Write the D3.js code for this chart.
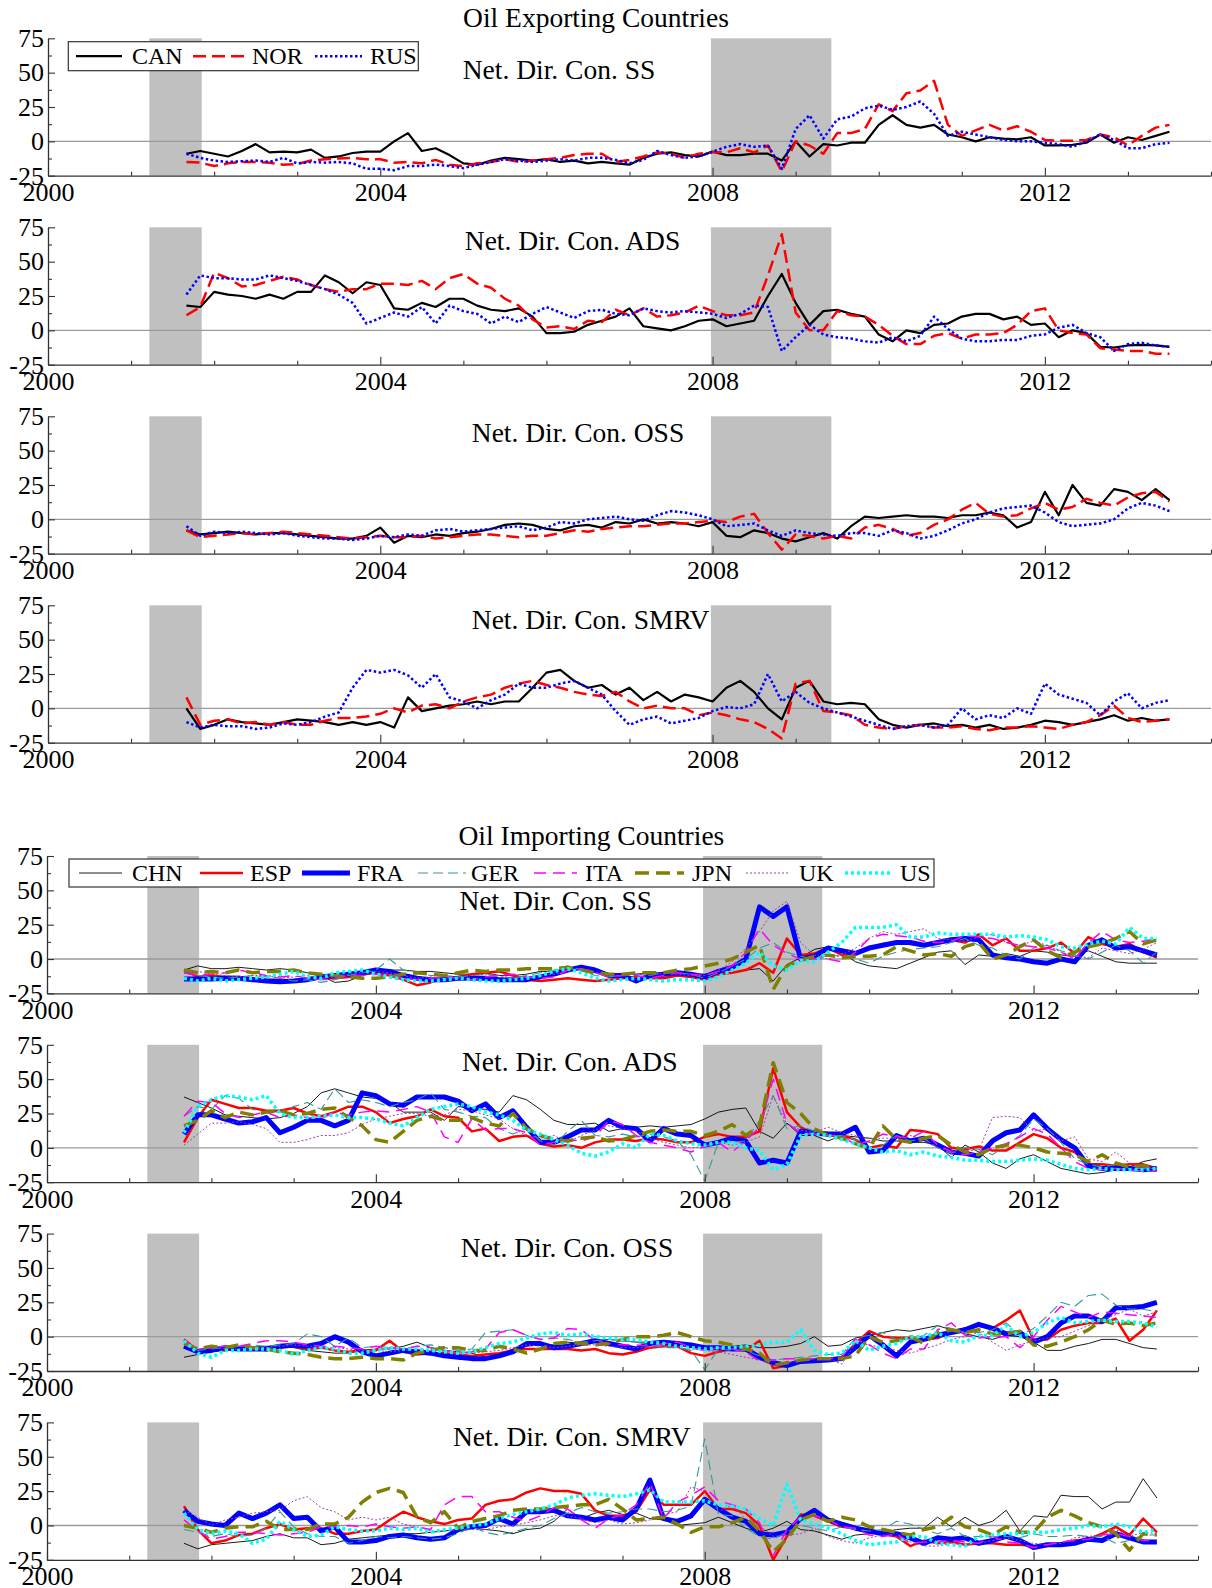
<!DOCTYPE html>
<html><head><meta charset="utf-8">
<script src="https://cdn.jsdelivr.net/npm/d3@7"></script>
<style>
html,body{margin:0;padding:0;background:#fff;}
svg{display:block;}
text{font-family:"Liberation Serif","Times New Roman",Times,serif;fill:#000;}
</style></head><body>
<svg id="chart" width="1212" height="1588"></svg>
<script>
// Sampling dates (every second month)
const periods = [
  "2001-09","2001-11",
  "2002-01","2002-03","2002-05","2002-07","2002-09","2002-11",
  "2003-01","2003-03","2003-05","2003-07","2003-09","2003-11",
  "2004-01","2004-03","2004-05","2004-07","2004-09","2004-11",
  "2005-01","2005-03","2005-05","2005-07","2005-09","2005-11",
  "2006-01","2006-03","2006-05","2006-07","2006-09","2006-11",
  "2007-01","2007-03","2007-05","2007-07","2007-09","2007-11",
  "2008-01","2008-03","2008-05","2008-07","2008-09","2008-11",
  "2009-01","2009-03","2009-05","2009-07","2009-09","2009-11",
  "2010-01","2010-03","2010-05","2010-07","2010-09","2010-11",
  "2011-01","2011-03","2011-05","2011-07","2011-09","2011-11",
  "2012-01","2012-03","2012-05","2012-07","2012-09","2012-11",
  "2013-01","2013-03","2013-05","2013-07"
];
const measures = ["SS", "ADS", "OSS", "SMRV"];
const exporters = ["CAN", "NOR", "RUS"];
const importers = ["CHN", "ESP", "FRA", "GER", "ITA", "JPN", "UK", "US"];
const recessions = [[2001.22, 2001.85], [2007.98, 2009.43]];
const yTicks = [-25, 0, 25, 50, 75];
const yMinorTicks = [-12.5, 12.5, 37.5, 62.5];
const xTickLabels = [2000, 2004, 2008, 2012];

// ---- Oil exporting countries ----
const expSS_CAN = [-9,-7,-9,-11,-7,-2,-8,-7.5,-8,-6,-12,-11,
  -8.5,-7.5,-7.5,0,6,-7,-5,-10,-16,-17,-14,-12,
  -13,-14,-13,-15,-14,-16,-15,-16,-17,-12,-9,-8,
  -10,-11,-7.5,-10,-10,-9,-9,-14,0,-11,-2,-3,
  -1,-1,12,19,12,10,12,5,3,0,3,2,
  1.5,3,-3,-3,-2.5,-1,5,-1,3,1,4,7];
const expSS_NOR = [-15,-15.5,-18,-16,-15,-15,-15.5,-17,-16.5,-14,-13,-12.5,
  -12,-13,-13,-15.5,-15,-16,-13.5,-17,-18,-16,-15,-13,
  -15,-14,-13,-12,-10,-9,-9,-15,-13.5,-11,-8,-9,
  -12,-9,-8,-8,-5,-8,-3,-22,0,-3,-9,6,
  6,9,27,22,35,37,44,12,4,8,12,8,
  11,7,1,0.5,0.5,1,5,3,-3,4,10,12];
const expSS_RUS = [-9,-12,-14,-15,-14.5,-14,-15,-12,-16,-15,-15.5,-15,
  -16,-20,-20,-21,-18,-18,-17,-18,-19.5,-17,-15,-13,
  -14,-15,-14,-13,-14,-12,-12,-13.5,-16,-13.5,-7,-10,
  -12,-11,-7.5,-4,-2,-4,-3,-20,9,19,2,16,
  18,24,26,23,25,29,20,4,7,5,3,1,
  0,0,-1,-2,-4,0,5,1,-5,-5,-2,-1];

const expADS_CAN = [18,17,28,26,25,23,26,23,28,28,40,35,
  27,35,33,16,15,20,17,23,23,18,15,14,
  16,10,-2,-2,-1,4,7,10,16,3,1.5,0,
  3,7,8,3,5,7,25,41,20,4,14,15,
  12,10,-3,-8,0,-2,4,5,10,12,12,8,
  10,4,5,-5,0,-2,-12,-12.5,-11,-10.5,-11,-12];
const expADS_NOR = [11,17,42,38,32,33,36,39,37,33,30,28,
  30,30,34,34,33,36,30,38,41,34,31,23,
  18,8,2,3,1,7,6,15,11,16,10,11,
  13,18,14,11,11,13,40,70,13,0,0,14,
  11,10,4,-4,-10,-10,-4,-2,-6,-3,-3,-2,
  4,14,16,0,-2,-3,-13,-14,-15,-15,-17,-17];
const expADS_RUS = [26,40,38,38,37,37,40,38,36,33,30,26,
  20,5,9,13,10,17,5,18,14,12,5,10,
  6,12,17,13,9,14,15,12,11,16,14,13,
  14,13,12,9,12,18,17,-15,-5,4,-3,-5,
  -6,-8,-9,-5,-8,-4,10,1,-6,-8,-8,-7,
  -7,-4,-3,2,4,-2,-5,-15,-10,-9,-11,-12];

const expOSS_CAN = [-8,-11,-10,-9,-10,-11,-10,-10,-11,-12,-13,-14,
  -14,-12,-6,-17,-12,-13,-11,-12,-10,-9,-7,-4,
  -3,-4,-7,-8,-5,-4,-6,-2,-3,0,-3,-2,
  -3,-5,-2,-12,-13,-8,-10,-14,-16,-13,-10,-14,
  -5,2,1,2,3,2,2,1,3,3,5,3,
  -6,-2,20,3,25,12,10,22,20,14,22,14];
const expOSS_NOR = [-8,-13,-12,-11,-10,-11,-10,-9,-10,-11,-12,-13,
  -14,-13,-12,-13,-13,-12,-14,-13,-12,-11,-11,-12,
  -13,-12,-12,-10,-8,-9,-7,-6,-5,-5,-4,-3,
  -3,-2,-1,-2,2,4,-10,-22,-11,-12,-14,-12,
  -14,-6,-4,-7,-12,-10,-4,0,7,12,4,2,
  3,8,12,7,9,15,12,10,16,19,20,13];
const expOSS_RUS = [-5,-12,-9,-10,-9,-10,-11,-10,-12,-13,-14,-14,
  -15,-14,-12,-13,-11,-12,-8,-7,-9,-8,-7,-6,
  -5,-8,-6,-2,-3,0,1,2,0,-1,3,6,
  5,3,0,-5,-4,-3,-8,-12,-8,-10,-11,-12,
  -10,-10,-12,-8,-10,-14,-12,-8,-3,0,5,8,
  9,10,5,-2,-5,-4,-3,0,8,12,10,6];

const expSMRV_CAN = [0,-15,-12,-8,-10,-11,-12,-10,-8,-9,-10,-12,
  -10,-12,-10,-14,8,-2,0,2,3,5,3,5,
  5,15,26,28,20,15,17,10,15,6,12,5,
  10,8,5,15,20,12,0,-8,15,20,5,3,
  4,3,-8,-12,-14,-12,-11,-13,-12,-14,-12,-15,
  -14,-12,-9,-10,-12,-10,-8,-5,-9,-7,-9,-8];
const expSMRV_NOR = [8,-12,-9,-8,-11,-10,-12,-10,-12,-12,-9,-7,
  -7,-6,-4,0,-3,2,3,0,5,8,10,15,
  18,20,17,15,12,10,9,12,5,0,2,0,
  0,-5,-3,-5,-8,-10,-15,-22,18,20,-2,-3,
  -5,-12,-14,-15,-13,-12,-14,-14,-13,-15,-16,-14,
  -14,-13,-14,-15,-12,-10,-5,2,-7,-10,-9,-8];
const expSMRV_RUS = [-10,-14,-12,-13,-13,-15,-14,-11,-12,-10,-6,-3,
  15,28,26,28,24,15,25,8,5,0,6,10,
  18,15,15,18,20,15,10,-2,-12,-8,-6,-11,
  -9,-7,-2,1,0,3,25,5,12,4,0,-3,
  -6,-9,-12,-15,-13,-12,-14,-12,0,-8,-5,-7,
  0,-4,18,10,7,4,-5,5,11,0,4,6];

// ---- Oil importing countries ----
const impSS_CHN = [-8,-5,-7,-7,-6,-7,-8,-7,-8,-10,-12,-17,
  -16,-12,-10,-8,-8,-9,-9,-10,-11,-11,-10,-12,
  -12,-11,-9,-9,-6,-7,-10,-11,-11,-11,-10,-11,
  -10,-11,-11,-10,-10,-8,-7,-16,-4,1,7,9,
  5,-2,-5,-6,-7,-3,1,5,6,-4,3,2,
  4,2,6,5,3,2,6,2,-2,-3,-3,-3];
const impSS_ESP = [-8,-13,-12,-13,-13,-14,-15,-15,-16,-15,-14,-14,
  -13,-11,-10,-12,-15,-19,-17,-14,-13,-11,-10,-9,
  -12,-15,-16,-15,-14,-15,-16,-15,-14,-13,-14,-14,
  -12,-13,-15,-11,-10,-8,-3,-10,15,3,4,8,
  3,5,8,11,12,11,10,12,14,12,18,10,
  15,6,6,8,12,4,16,11,9,11,5,1];
const impSS_FRA = [-14.5,-14.5,-14.5,-14,-14,-15,-16,-16.5,-16,-15,-13,-12,
  -11,-10,-8,-9,-12,-14,-15,-15,-14,-14,-14,-15,
  -15,-15,-13,-11,-8,-6,-8,-12,-12,-16,-12,-11,
  -10,-11,-13,-9,-6,0,38,31,38,0,2,8,
  6,4,8,10,12,12,10,12,14,15,14,3,
  1,0,-2,-3,0,-2,10,14,8,9,6,3];
const impSS_GER = [-10,-12,-13,-14,-13,-12,-13,-14,-16,-15,-17,-15,
  -12,-10,-8,0,-8,-10,-12,-12,-13,-12,-11,-13,
  -14,-12,-10,-8,-5,-8,-12,-13,-12,-11,-12,-10,
  -10,-11,-14,-10,-5,0,8,12,5,2,0,3,
  2,0,-3,2,5,7,8,9,12,15,10,8,
  3,0,8,10,6,3,0,5,10,6,-3,5];
const impSS_ITA = [-10,-12,-11,-10,-8,-10,-12,-13,-12,-14,-15,-14,
  -12,-12,-11,-13,-14,-15,-14,-13,-14,-15,-13,-12,
  -11,-13,-14,-13,-8,-7,-10,-13,-12,-12,-14,-12,
  -10,-11,-12,-9,-5,5,22,10,4,0,0,0,
  -2,5,15,18,17,16,13,12,13,17,16,15,
  12,10,9,8,5,0,12,20,14,12,13,15];
const impSS_JPN = [-8,-10,-9,-10,-8,-10,-9,-9,-8,-10,-11,-12,
  -13,-14,-14,-13,-11,-10,-11,-12,-10,-8,-9,-8,
  -8,-7,-7,-7,-6,-8,-10,-11,-11,-10,-10,-10,
  -8,-7,-5,-3,0,5,10,-22,-5,-1,2,3,
  1,2,2,3,9,6,3,4,2,9,12,0,
  3,9,14,6,1,5,9,11,15,20,11,14];
const impSS_UK = [-10,-9,-11,-12,-13,-12,-12,-14,-13,-12,-14,-13,
  -11,-10,-9,-10,-12,-14,-13,-14,-13,-12,-11,-12,
  -14,-13,-12,-11,-9,-8,-10,-12,-12,-11,-12,-10,
  -11,-12,-12,-8,-2,8,20,35,42,12,3,0,
  3,8,15,20,18,20,22,15,14,13,16,18,
  12,10,13,10,5,2,1,8,6,4,7,12];
const impSS_US = [-14,-16,-14,-16,-15,-14,-13,-11,-9,-13,-14,-10,
  -9,-8,-11,-13,-15,-16,-16,-15,-14,-15,-16,-16,
  -15,-14,-12,-9,-7,-10,-14,-16,-15,-14,-15,-16,
  -15,-15,-16,-13,-8,-3,5,-5,-8,-1,-2,5,
  12,23,23,23,25,16,16,19,18,18,18,18,
  16,17,16,14,9,8,11,13,11,23,15,15];

const impADS_CHN = [37,33,29,24,23,22,21,22,25,30,40,43,
  40,37,36,33,26,26,26,20,30,29,28,26,
  38,35,28,20,17,17,18,12,14,15,16,15,
  16,17,21,26,28,29,12,7,18,9,9,5,
  9,8,7,5,5,4,4,2,-7,2,-3,-11,
  -15,-8,-5,-10,-15,-17,-19,-18,-16,-14,-10,-8];
const impADS_ESP = [4,22,35,32,29,29,27,27,29,25,23,26,
  30,30,26,18,21,23,28,23,22,12,14,5,
  8,9,3,1,2,0,4,6,6,5,7,6,
  4,4,8,10,8,8,12,58,26,15,10,9,
  9,6,0,2,0,13,12,10,0,-1,1,-2,
  -2,4,10,7,0,-3,-12,-12,-13,-12,-12,-15];
const impADS_FRA = [10,24,24,21,18,19,22,11,15,20,20,16,
  20,40,38,32,31,37,37,37,34,27,32,22,
  27,15,4,4,8,13,13,20,15,14,5,14,
  10,9,2,4,7,5,-11,-9,-11,12,11,10,
  10,15,-3,-2,9,5,7,2,-3,-4,-6,5,
  11,13,24,14,6,0,-13,-15,-15,-15,-16,-15];
const impADS_GER = [23,30,28,38,36,28,26,26,30,33,28,43,
  33,35,33,30,33,35,40,28,26,23,22,14,
  10,14,5,2,12,20,9,8,10,8,10,8,
  5,-5,-24,4,4,5,20,38,14,16,12,9,
  9,6,4,2,9,5,7,0,-4,0,-1,-5,
  2,9,21,14,4,-8,-12,-14,-12,-15,-15,-15];
const impADS_ITA = [23,34,33,25,22,24,26,22,24,22,21,26,
  24,26,27,26,28,30,26,8,4,21,13,14,
  14,11,2,4,6,5,8,20,17,9,4,2,
  0,-3,1,4,-3,5,15,50,18,11,10,9,
  9,2,5,10,8,7,12,2,-3,-5,-3,0,
  3,8,14,10,0,-10,-15,-16,-15,-16,-17,-17];
const impADS_JPN = [16,20,27,22,26,24,26,27,24,25,28,29,
  22,16,6,4,12,20,23,20,20,22,18,16,
  25,14,9,6,5,7,8,5,6,9,12,13,
  12,12,9,12,17,9,16,62,33,25,14,9,
  7,3,0,16,6,4,7,9,2,-3,-5,0,
  2,2,0,-3,-4,-5,-10,-5,-11,-14,-13,-15];
const impADS_UK = [2,10,18,18,19,17,14,4,4,6,9,9,
  11,17,21,23,25,25,23,24,28,27,24,21,
  14,9,7,9,4,9,13,16,14,12,7,4,
  2,0,1,4,2,4,8,38,17,13,11,15,
  11,9,7,7,7,9,6,0,-2,-2,-2,22,
  23,22,12,14,5,8,-8,-10,-3,-11,-14,-15];
const impADS_US = [11,30,35,38,37,35,38,25,22,22,23,24,
  22,22,21,18,16,22,28,30,32,30,26,24,
  20,13,10,6,2,-4,-6,-3,3,0,10,9,
  5,3,2,4,4,0,-2,-16,-12,9,10,9,
  6,3,0,-3,-2,-5,-3,-6,-7,-9,-9,-10,
  -10,-9,-8,-9,-12,-15,-16,-15,-16,-16,-16,-15];

const impOSS_CHN = [-15,-13,-11,-10,-9,-8,-7,-7,-8,-10,-11,-12,
  -12,-10,-9,-9,-7,-4,-8,-10,-11,-12,-15,-13,
  -9,-7,-6,-6,-4,-5,-3,-2,-3,-4,-4,-6,
  -5,-8,-9,-9,-7,-6,-8,-8,-7,-5,0,-7,
  -6,-1,1,3,5,4,6,8,5,2,0,-2,
  1,0,-4,-10,-10,-7,-5,-2,-2,-5,-8,-9];
const impOSS_ESP = [-2,-10,-9,-10,-8,-8,-10,-8,-7,-9,-8,-10,
  -11,-10,-10,-3,-11,-13,-12,-12,-13,-14,-13,-12,
  -10,-9,-9,-9,-9,-10,-9,-12,-13,-11,-8,-7,
  -7,-12,-14,-11,-9,-10,-3,-23,-21,-18,-17,-16,
  -15,-5,4,0,-1,-1,-2,-1,3,6,8,6,
  12,19,-2,-2,5,8,10,10,13,-3,5,19];
const impOSS_FRA = [-7,-11,-10,-8,-9,-9,-9,-7,-6,-7,-5,0,
  -4,-11,-14,-12,-10,-11,-12,-14,-15,-16,-16,-14,
  -11,-5,-5,-8,-7,-5,-3,-5,-7,-9,-5,-4,
  -5,-6,-8,-8,-9,-9,-15,-19,-21,-18,-17.5,-17,
  -16,-8,1,-6,-14,-4,-2,1,3,5,9,6,
  2,3,-4,0,10,15,15,11,21,21,22,25];
const impOSS_GER = [-3,-10,-9,-8,-7,-6,-7,-6,-5,2,0,-7,
  -1,-8,-7,-8,-9,-7,-6,-8,-10,-9,3,4,
  5,1,-2,-1,-2,-4,-3,-2,-3,-4,-6,-8,
  -8,-10,-24,-9,-10,-10,-14,-17,-16,-15,-14,-13,
  -13,-1,1,3,-2,-2,1,8,6,3,3,5,
  10,1,6,15,25,22,30,31,23,20,20,18];
const impOSS_ITA = [-3,-9,-8,-7,-7,-5,-3,-3,-4,-6,-7,-7,
  -8,-9,-7,-8,-9,-7,-8,-10,-12,-11,-9,3,
  5,1,-2,-1,6,5,-3,-5,-6,-6,-7,-5,
  -4,-8,-10,-8,-9,-11,-18,-17,-16,-16,-16,-16,
  -15,-2,-6,-12,-16,-9,-9,5,10,1,-1,0,
  0,-8,0,12,22,18,14,18,17,16,15,14];
const impOSS_JPN = [-5,-9,-7,-8,-6,-8,-9,-11,-12,-13,-15,-16,
  -16,-15,-16,-16,-17,-12,-10,-8,-8,-10,-10,-7,
  -9,-12,-9,-5,-4,-5,-6,-5,-2,0,0,1,
  3,0,-3,-4,-6,-9,-12,-21,-19,-17,-16,-16,
  -16,-14,0,-4,-3,0,-5,3,5,3,5,2,
  2,4,-6,-7,-4,0,5,12,9,10,8,10];
const impOSS_UK = [-5,-9,-8,-9,-9,-10,-8,-7,-6,-7,-8,-8,
  -9,-10,-10,-11,-10,-9,-10,-11,-12,-12,-11,-10,
  -8,-6,-7,-8,-7,-6,-6,-7,-8,-8,-8,-7,
  -8,-9,-10,-11,-13,-15,-17,-21,-19,-17,-16,-16,
  -20,-5,-6,-8,-10,-12,-9,-6,-2,0,3,-4,
  -10,-6,-3,-1,0,4,8,12,16,20,15,18];
const impOSS_US = [-3,-12,-15,-10,-10,-9,-9,-10,-13,-10,-8,-9,
  -12,-12,-10,-8,-9,-9,-10,-11,-12,-11,-8,-5,
  -4,-1,2,3,1,2,0,-1,-2,-2,-4,-5,
  -7,-8,-9,-8,-8,-7,-6,-4,-4,5,-10,-13,
  -12,-3,-10,-7,-5,0,0,3,-3,-4,1,1,
  8,0,3,10,14,10,11,12,11,11,10,7];

const impSMRV_CHN = [-13,-17,-14,-13,-12,-11,-8,-6,-9,-9,-14,-13,
  -10,-9,-8,-7,-6,-6,-5,-4,-3,-2,-3,-4,
  -6,-3,-2,3,12,5,9,11,8,9,5,4,
  0,1,2,6,2,-2,-5,-2,3,-3,-4,-7,
  -10,-7,-6,-5,-3,-2,-2,6,-1,6,0,3,
  11,-4,7,6,22,21,21,12,17,17,34,20];
const impSMRV_ESP = [14,-3,-13,-11,-7,-6,-2,1,-3,-2,-2,-6,
  -6,-4,-3,4,10,6,3,1,4,5,15,18,
  19,24,27,25,25,23,11,7,7,10,26,15,
  15,15,25,12,12,9,0,-25,-8,8,7,3,
  -1,-2,-3,-6,-8,-15,-11,-13,-12,-14,-13,-13,
  -14,-14,-15,-15,-13,-11,-10,-6,-1,-7,5,-5];
const impSMRV_FRA = [11,3,1,0,9,5,9,15,5,6,-4,-1,
  -12,-12,-11,-8,-7,-9,-10,-9,-3,-1,0,5,
  1,10,10,11,7,6,4,6,4,12,33,5,
  3,7,19,12,6,3,-6,-7,-5,5,11,4,
  1,-2,-4,-6,-6,-9,-13,-9,-10,-9,-13,-11,
  -8,-11,-16,-14,-14,-13,-10,-11,-6,-9,-12,-12];
const impSMRV_GER = [-3,-5,-8,-6,-8,-7,-2,10,-1,-6,-8,-8,
  -13,-11,-8,-9,-8,-9,-10,-9,-6,-1,-5,-7,
  -5,-2,0,5,9,13,10,9,10,12,12,10,
  11,14,63,8,7,-2,-8,-10,-5,0,-2,-4,
  -1,-3,-4,-3,3,1,-3,-6,-2,-8,-8,-8,
  -8,-9,-6,-8,-8,-7,-8,-8,-13,-11,-7,-7];
const impSMRV_ITA = [4,-4,-10,-8,-5,-5,-6,-7,-6,-5,-1,-1,
  0,-1,1,-1,-2,-1,-3,15,21,21,10,10,
  6,3,7,13,12,4,-2,5,8,15,31,5,
  17,22,28,18,15,12,2,-22,-3,6,7,4,
  -1,-2,-7,-8,-6,-13,-12,-12,-11,-12,-13,-8,
  -12,-13,-16,-14,-12,-11,-10,-7,-6,-8,-11,-11];
const impSMRV_JPN = [0,-2,-5,-2,-1,-1,3,-3,-3,-3,1,1,
  6,17,24,27,24,6,2,10,-2,3,5,7,
  11,12,12,13,14,15,15,19,12,4,5,6,
  1,-5,-1,-1,2,6,-4,-19,-10,4,8,3,
  6,4,-1,-3,-5,-7,-3,-1,6,-1,-3,-7,
  -1,-5,-5,6,11,7,2,-1,-6,-18,-6,-7];
const impSMRV_UK = [11,6,0,4,6,9,10,11,18,21,13,10,
  4,6,4,6,1,-1,-4,-4,-3,-3,-3,-1,
  0,2,4,7,7,5,2,4,1,2,4,8,
  10,28,25,10,15,5,0,-8,-7,-6,-2,-8,
  -11,-13,-9,-7,-8,-12,-15,-15,-13,-14,-13,-11,
  -9,-11,-13,-14,-13,-9,-8,-7,-3,-8,-5,-6];
const impSMRV_US = [9,-3,-6,-4,-6,-13,-10,3,-3,-8,-7,-1,
  -3,-4,-4,-2,-3,-2,-5,-3,-2,0,1,5,
  8,10,12,15,20,22,23,22,21,23,26,17,
  17,17,18,15,14,12,5,0,30,4,1,-2,
  -6,-11,-14,-13,-12,-8,-8,-13,-14,-15,-8,-7,
  -6,-6,-5,-5,-3,-2,0,-1,1,-1,-5,-3];

// Line style for each country
const styles = {
  CAN: {color: "#000000", width: 2.2, dash: null},
  NOR: {color: "#ff0000", width: 2.5, dash: "13,6"},
  RUS: {color: "#0000ff", width: 2.5, dash: "2.5,2.5"},
  CHN: {color: "#000000", width: 0.9, dash: null},
  ESP: {color: "#ff0000", width: 2.5, dash: null},
  FRA: {color: "#0000ff", width: 5, dash: null},
  GER: {color: "#339999", width: 1.1, dash: "10,5"},
  ITA: {color: "#ff00ff", width: 1.5, dash: "12,7"},
  JPN: {color: "#808000", width: 3.5, dash: "14,7"},
  UK:  {color: "#a040a0", width: 1, dash: "2,2"},
  US:  {color: "#00ffff", width: 3.5, dash: "3,3"}
};

const years = periods.map(p => {
  const [yr, mo] = p.split("-").map(Number);
  return yr + (mo - 1) / 12;
});

const groups = [
  {
    title: "Oil Exporting Countries", titleX: 596, titleY: 27,
    x0: 48, x1: 1211, top0: 38.3, step: 189,
    countries: exporters,
    data: {
      SS:   {CAN: expSS_CAN,   NOR: expSS_NOR,   RUS: expSS_RUS},
      ADS:  {CAN: expADS_CAN,  NOR: expADS_NOR,  RUS: expADS_RUS},
      OSS:  {CAN: expOSS_CAN,  NOR: expOSS_NOR,  RUS: expOSS_RUS},
      SMRV: {CAN: expSMRV_CAN, NOR: expSMRV_NOR, RUS: expSMRV_RUS}
    },
    sub: [[462.7, 79], [464.8, 250], [471.8, 442], [471.8, 629]],
    legend: {x: 68.3, y: 41.7, w: 350, h: 29,
      items: [[76, 122, 132], [193, 245, 252], [315, 362, 370]]}
  },
  {
    title: "Oil Importing Countries", titleX: 591.4, titleY: 845,
    x0: 47, x1: 1198, top0: 856, step: 188.8,
    countries: importers,
    data: {
      SS:   {CHN: impSS_CHN, ESP: impSS_ESP, FRA: impSS_FRA, GER: impSS_GER, ITA: impSS_ITA, JPN: impSS_JPN, UK: impSS_UK, US: impSS_US},
      ADS:  {CHN: impADS_CHN, ESP: impADS_ESP, FRA: impADS_FRA, GER: impADS_GER, ITA: impADS_ITA, JPN: impADS_JPN, UK: impADS_UK, US: impADS_US},
      OSS:  {CHN: impOSS_CHN, ESP: impOSS_ESP, FRA: impOSS_FRA, GER: impOSS_GER, ITA: impOSS_ITA, JPN: impOSS_JPN, UK: impOSS_UK, US: impOSS_US},
      SMRV: {CHN: impSMRV_CHN, ESP: impSMRV_ESP, FRA: impSMRV_FRA, GER: impSMRV_GER, ITA: impSMRV_ITA, JPN: impSMRV_JPN, UK: impSMRV_UK, US: impSMRV_US}
    },
    sub: [[459.5, 910], [462, 1071], [460.8, 1256.5], [453, 1446]],
    legend: {x: 69, y: 859, w: 865, h: 28,
      items: [[79, 122, 132], [200, 243, 250], [302, 350, 357], [418, 466, 471],
              [534, 577, 585], [635, 684, 692], [746, 790, 799], [845, 892, 900]]}
  }
];

const svg = d3.select("#chart");
svg.append("rect").attr("width", 1212).attr("height", 1588).attr("fill", "#fff");

const PANEL_H = 137.4;
const AXIS_COLOR = "#333";

function styleAxis(g, size) {
  g.attr("color", AXIS_COLOR);
  g.selectAll("path.domain").attr("stroke-width", 1.3);
  g.selectAll(".tick line").attr("stroke-width", 1.1);
  g.selectAll("text").attr("fill", "#000")
    .style("font-family", '"Liberation Serif","Times New Roman",serif')
    .style("font-size", size + "px");
}

groups.forEach(grp => {
  const x = d3.scaleLinear().domain([2000, 2014]).range([grp.x0, grp.x1]);

  svg.append("text")
    .attr("x", grp.titleX).attr("y", grp.titleY)
    .attr("text-anchor", "middle")
    .style("font-size", "27.5px")
    .text(grp.title);

  measures.forEach((m, i) => {
    const top = grp.top0 + i * grp.step;
    const y = d3.scaleLinear().domain([-25, 75]).range([top + PANEL_H, top]);
    const panel = svg.append("g").attr("class", "panel");

    // recession shading
    panel.selectAll("rect.rec").data(recessions).join("rect")
      .attr("class", "rec")
      .attr("x", d => x(d[0])).attr("width", d => x(d[1]) - x(d[0]))
      .attr("y", y(75)).attr("height", y(-25) - y(75))
      .attr("fill", "#c0c0c0");

    // zero reference line
    panel.append("line")
      .attr("x1", x(2000)).attr("x2", x(2014))
      .attr("y1", y(0)).attr("y2", y(0))
      .attr("stroke", "#9a9a9a").attr("stroke-width", 1.4);

    // country series
    const line = d3.line().x((d, j) => x(years[j])).y(d => y(d));
    grp.countries.forEach(c => {
      const st = styles[c];
      panel.append("path")
        .attr("d", line(grp.data[m][c]))
        .attr("fill", "none")
        .attr("stroke", st.color)
        .attr("stroke-width", st.width)
        .attr("stroke-dasharray", st.dash)
        .attr("stroke-linejoin", "round");
    });

    // y axis
    const ya = panel.append("g").attr("transform", `translate(${x(2000)},0)`)
      .call(d3.axisLeft(y).tickValues(yTicks).tickSize(-7).tickSizeOuter(0)
        .tickPadding(4).tickFormat(d => String(d)));
    styleAxis(ya, 26);
    const yam = panel.append("g").attr("transform", `translate(${x(2000)},0)`)
      .call(d3.axisLeft(y).tickValues(yMinorTicks).tickSize(-4).tickFormat(""));
    yam.select("path.domain").remove();
    styleAxis(yam, 26);

    // x axis
    const xa = panel.append("g").attr("transform", `translate(0,${y(-25)})`)
      .call(d3.axisBottom(x).tickValues(xTickLabels).tickSize(-8).tickSizeOuter(0)
        .tickPadding(7).tickFormat(d => String(d)));
    styleAxis(xa, 26);
    const minorYears = d3.range(2000, 2015).filter(v => !xTickLabels.includes(v));
    const xam = panel.append("g").attr("transform", `translate(0,${y(-25)})`)
      .call(d3.axisBottom(x).tickValues(minorYears).tickSize(-4).tickFormat(""));
    xam.select("path.domain").remove();
    styleAxis(xam, 26);

    // panel heading
    panel.append("text")
      .attr("x", grp.sub[i][0]).attr("y", grp.sub[i][1])
      .style("font-size", "27.5px")
      .text("Net. Dir. Con. " + m);

    // legend on the first panel of each group
    if (i === 0) {
      const L = grp.legend;
      const lg = panel.append("g");
      lg.append("rect")
        .attr("x", L.x).attr("y", L.y).attr("width", L.w).attr("height", L.h)
        .attr("fill", "#fff").attr("stroke", "#333").attr("stroke-width", 1.2);
      const cy = L.y + L.h / 2;
      grp.countries.forEach((c, k) => {
        const [lx0, lx1, tx] = L.items[k];
        const st = styles[c];
        lg.append("line")
          .attr("x1", lx0).attr("x2", lx1).attr("y1", cy).attr("y2", cy)
          .attr("stroke", st.color).attr("stroke-width", st.width)
          .attr("stroke-dasharray", st.dash);
        lg.append("text")
          .attr("x", tx).attr("y", cy + 8)
          .style("font-size", "24px")
          .text(c);
      });
    }
  });
});
</script>
</body></html>
